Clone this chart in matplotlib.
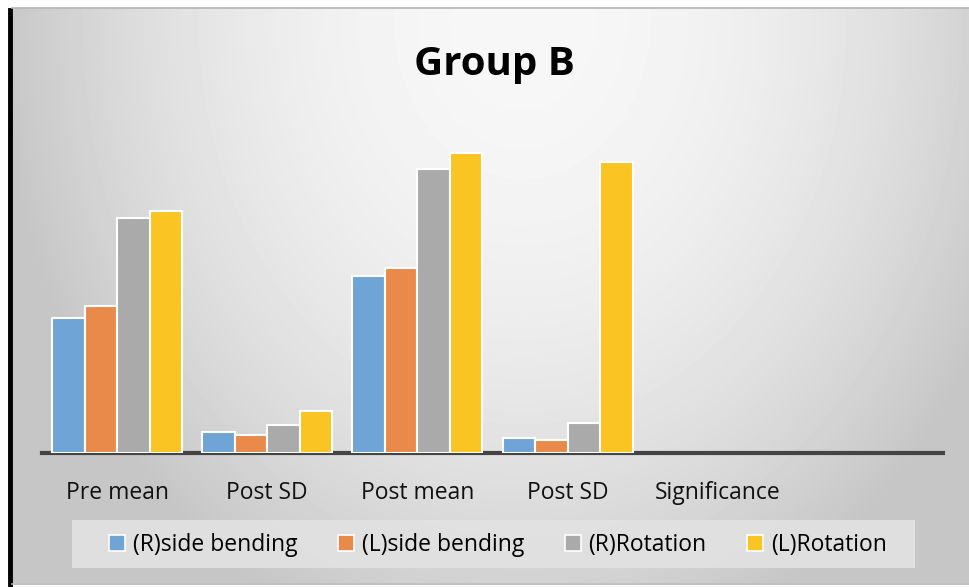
import numpy as np
import matplotlib
matplotlib.use('Agg')
import matplotlib.pyplot as plt
from matplotlib.patches import Patch, Rectangle
from matplotlib.lines import Line2D

plt.rcParams['font.family'] = ['Open Sans', 'DejaVu Sans']

# group B results, one list per movement
categories = ['Pre mean', 'Post SD', 'Post mean', 'Post SD', 'Significance', '']
r_side_bending = [13.5, 2.1, 17.7, 1.5, 0, 0]
l_side_bending = [14.7, 1.8, 18.5, 1.3, 0, 0]
r_rotation = [23.5, 2.8, 28.4, 3.0, 0, 0]
l_rotation = [24.2, 4.2, 30.0, 29.1, 0, 0]
series_names = ['(R)side bending', '(L)side bending', '(R)Rotation', '(L)Rotation']
colors = ['#6fa5d6', '#e98a4a', '#aaaaaa', '#fac423']

fig = plt.figure(figsize=(9.69, 5.87), dpi=100)

# soft grey backdrop, bright near the top middle
bg = fig.add_axes([12 / 969, 4 / 587, 957 / 969, 575 / 587])
h, w = 575, 957
yy, xx = np.mgrid[0:h, 0:w]
d2 = ((xx - 510) / 500) ** 2 + 0.8 * ((yy - 10) / 560) ** 2
shade = np.clip(247 - 45 * d2, 198, 250) / 255
bg.imshow(shade, cmap='gray', vmin=0, vmax=1, aspect='auto', interpolation='bilinear')
bg.axis('off')

# frame lines
fig.add_artist(Line2D([9.5 / 969, 9.5 / 969], [0, 1 - 10 / 587], color='black', lw=3.5))
fig.add_artist(Line2D([12 / 969, 1], [1 - 8 / 587] * 2, color='#b5b5b5', lw=1.2))
fig.add_artist(Line2D([12 / 969, 1], [3 / 587] * 2, color='#b5b5b5', lw=1.2))

ax = fig.add_axes([42 / 969, 1 - 453 / 587, 901 / 969, 320 / 587])
ax.patch.set_alpha(0)

x = np.arange(len(categories))
bw = 0.2167
all_series = [r_side_bending, l_side_bending, r_rotation, l_rotation]
for i, vals in enumerate(all_series):
    vals = np.array(vals, dtype=float)
    keep = vals > 0  # empty categories get no bar outline
    ax.bar(x[keep] + (i - 1.5) * bw, vals[keep], bw, color=colors[i], edgecolor='white',
           linewidth=1.5, zorder=3)

ax.set_xlim(-0.5, len(categories) - 0.5)
ax.set_ylim(0, 32)
ax.set_xticks(x)
ax.set_xticklabels(categories, fontsize=16.5, color='#111111')
ax.tick_params(axis='x', length=0, pad=20)
ax.set_yticks([])
for side in ['top', 'right', 'left']:
    ax.spines[side].set_visible(False)
ax.spines['bottom'].set_color('#444444')
ax.spines['bottom'].set_linewidth(3)

fig.text(494 / 969, 1 - 65 / 587, 'Group B', ha='center', va='center',
         fontsize=29, fontweight='bold', color='black')

# legend panel is wider than its entries
fig.add_artist(Rectangle((72 / 969, 1 - 568 / 587), 843 / 969, 48 / 587,
                         transform=fig.transFigure, facecolor='#e2e2e2',
                         edgecolor='none', alpha=0.9))
handles = [Patch(facecolor=c, edgecolor='white', linewidth=1.2) for c in colors]
leg = fig.legend(handles, series_names, loc='center', ncol=4,
                 bbox_to_anchor=(498 / 969, 1 - 545 / 587), fontsize=16.5,
                 frameon=False, handlelength=0.7, handleheight=0.7,
                 handletextpad=0.35, columnspacing=1.75, borderaxespad=0)

fig.savefig('out.png', dpi=100)
